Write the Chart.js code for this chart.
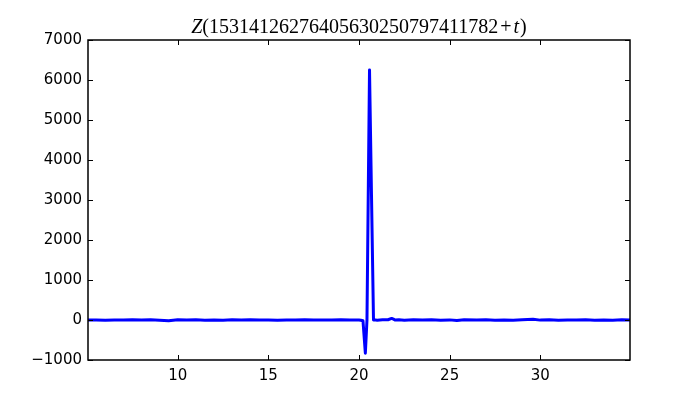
<!DOCTYPE html>
<html>
<head>
<meta charset="utf-8">
<script src="https://cdn.jsdelivr.net/npm/chart.js@4/dist/chart.umd.min.js"></script>
<style>
html,body{margin:0;padding:0;background:#fff;}
#wrap{width:700px;height:400px;}
</style>
</head>
<body>
<div id="wrap"><canvas id="c" width="700" height="400"></canvas></div>
<script>
const titleDigits = "15314126276405630250797411782";
const tValues = [5.05,5.5,6,6.5,7,7.5,8,8.5,9,9.5,10,10.5,11,11.5,12,12.5,13,13.5,14,14.5,15,15.5,16,16.5,17,17.5,18,18.5,19,19.5,20,20.1,20.22,20.35,20.44,20.58,20.69,20.8,20.9,21,21.3,21.6,21.8,21.9,22,22.2,22.5,23,23.5,24,24.5,25,25.4,25.8,26.5,27,27.5,28,28.5,29,29.6,30,30.5,31,31.5,32,32.5,33,33.5,34,34.5,34.95];
const zValues = [-3,2,-4,3,-2,5,-3,4,-5,-20,4,-3,6,-4,3,-5,4,-2,5,-3,2,-4,3,-2,4,-3,2,-3,4,-2,2,-5,-20,-830,0,6250,3100,0,3,-4,5,6,40,20,-3,4,-5,4,-3,5,-5,3,-15,5,-3,6,-4,3,-5,4,20,-3,4,-6,3,-3,5,-4,3,-5,4,-2];
const xTicks = [10,15,20,25,30];
const yTicks = [-1000,0,1000,2000,3000,4000,5000,6000,7000];
const xMin = 5.05, xMax = 34.95, yMin = -1000, yMax = 7000;

const points = tValues.map((t,i)=>({x:t,y:zValues[i]}));

const framePlugin = {
  id:'frame',
  afterDatasetsDraw(chart){
    const ctx = chart.ctx, a = chart.chartArea;
    const xs = chart.scales.x, ys = chart.scales.y;
    ctx.save();
    ctx.strokeStyle = '#000';
    ctx.lineWidth = 1;
    const L = 5;
    ctx.beginPath();
    xTicks.forEach(v=>{
      const px = Math.round(xs.getPixelForValue(v))+0.5;
      ctx.moveTo(px,a.bottom); ctx.lineTo(px,a.bottom-L);
      ctx.moveTo(px,a.top); ctx.lineTo(px,a.top+L);
    });
    yTicks.forEach(v=>{
      const py = Math.round(ys.getPixelForValue(v))+0.5;
      ctx.moveTo(a.left,py); ctx.lineTo(a.left+L,py);
      ctx.moveTo(a.right,py); ctx.lineTo(a.right-L,py);
    });
    ctx.stroke();
    ctx.lineWidth = 1.5;
    ctx.strokeRect(a.left,a.top,a.right-a.left,a.bottom-a.top);
    // title
    const size = 20;
    const parts = [
      {s:'Z', f:'italic '+size+'px "Liberation Serif"', gap:0},
      {s:'(' + titleDigits, f:size+'px "Liberation Serif"', gap:0},
      {s:'+', f:size+'px "Liberation Serif"', gap:2},
      {s:'t', f:'italic '+size+'px "Liberation Serif"', gap:2},
      {s:')', f:size+'px "Liberation Serif"', gap:1}
    ];
    let total = 0;
    parts.forEach(p=>{ctx.font=p.f; p.w=ctx.measureText(p.s).width; total += p.w + p.gap;});
    let x = (a.left+a.right)/2 - total/2;
    ctx.fillStyle = '#000';
    ctx.textBaseline = 'alphabetic';
    ctx.textAlign = 'left';
    parts.forEach(p=>{x += p.gap; ctx.font=p.f; ctx.fillText(p.s,x,33); x += p.w;});
    ctx.restore();
  }
};

new Chart(document.getElementById('c'),{
  type:'line',
  data:{datasets:[{data:points,borderColor:'#0000ff',borderWidth:3,pointRadius:0,tension:0,fill:false,borderJoinStyle:'round',borderCapStyle:'butt'}]},
  options:{
    responsive:false,
    animation:false,
    events:[],
    layout:{padding:{left:0,right:70,top:40,bottom:0}},
    plugins:{legend:{display:false},tooltip:{enabled:false},title:{display:false}},
    scales:{
      x:{type:'linear',min:xMin,max:xMax,
        grid:{display:false,drawTicks:false},border:{display:false},
        ticks:{padding:7,color:'#000',font:{family:'"DejaVu Sans"',size:15},maxRotation:0,autoSkip:false},
        afterBuildTicks(s){s.ticks = xTicks.map(v=>({value:v}));},
        afterFit(s){s.height=40;}
      },
      y:{type:'linear',min:yMin,max:yMax,
        grid:{display:false,drawTicks:false},border:{display:false},
        ticks:{padding:6,color:'#000',font:{family:'"DejaVu Sans"',size:15},autoSkip:false,
          callback:(v)=>String(v).replace('-','\u2212')},
        afterBuildTicks(s){s.ticks = yTicks.map(v=>({value:v}));},
        afterFit(s){s.width=88;}
      }
    }
  },
  plugins:[framePlugin]
});
</script>
</body>
</html>
